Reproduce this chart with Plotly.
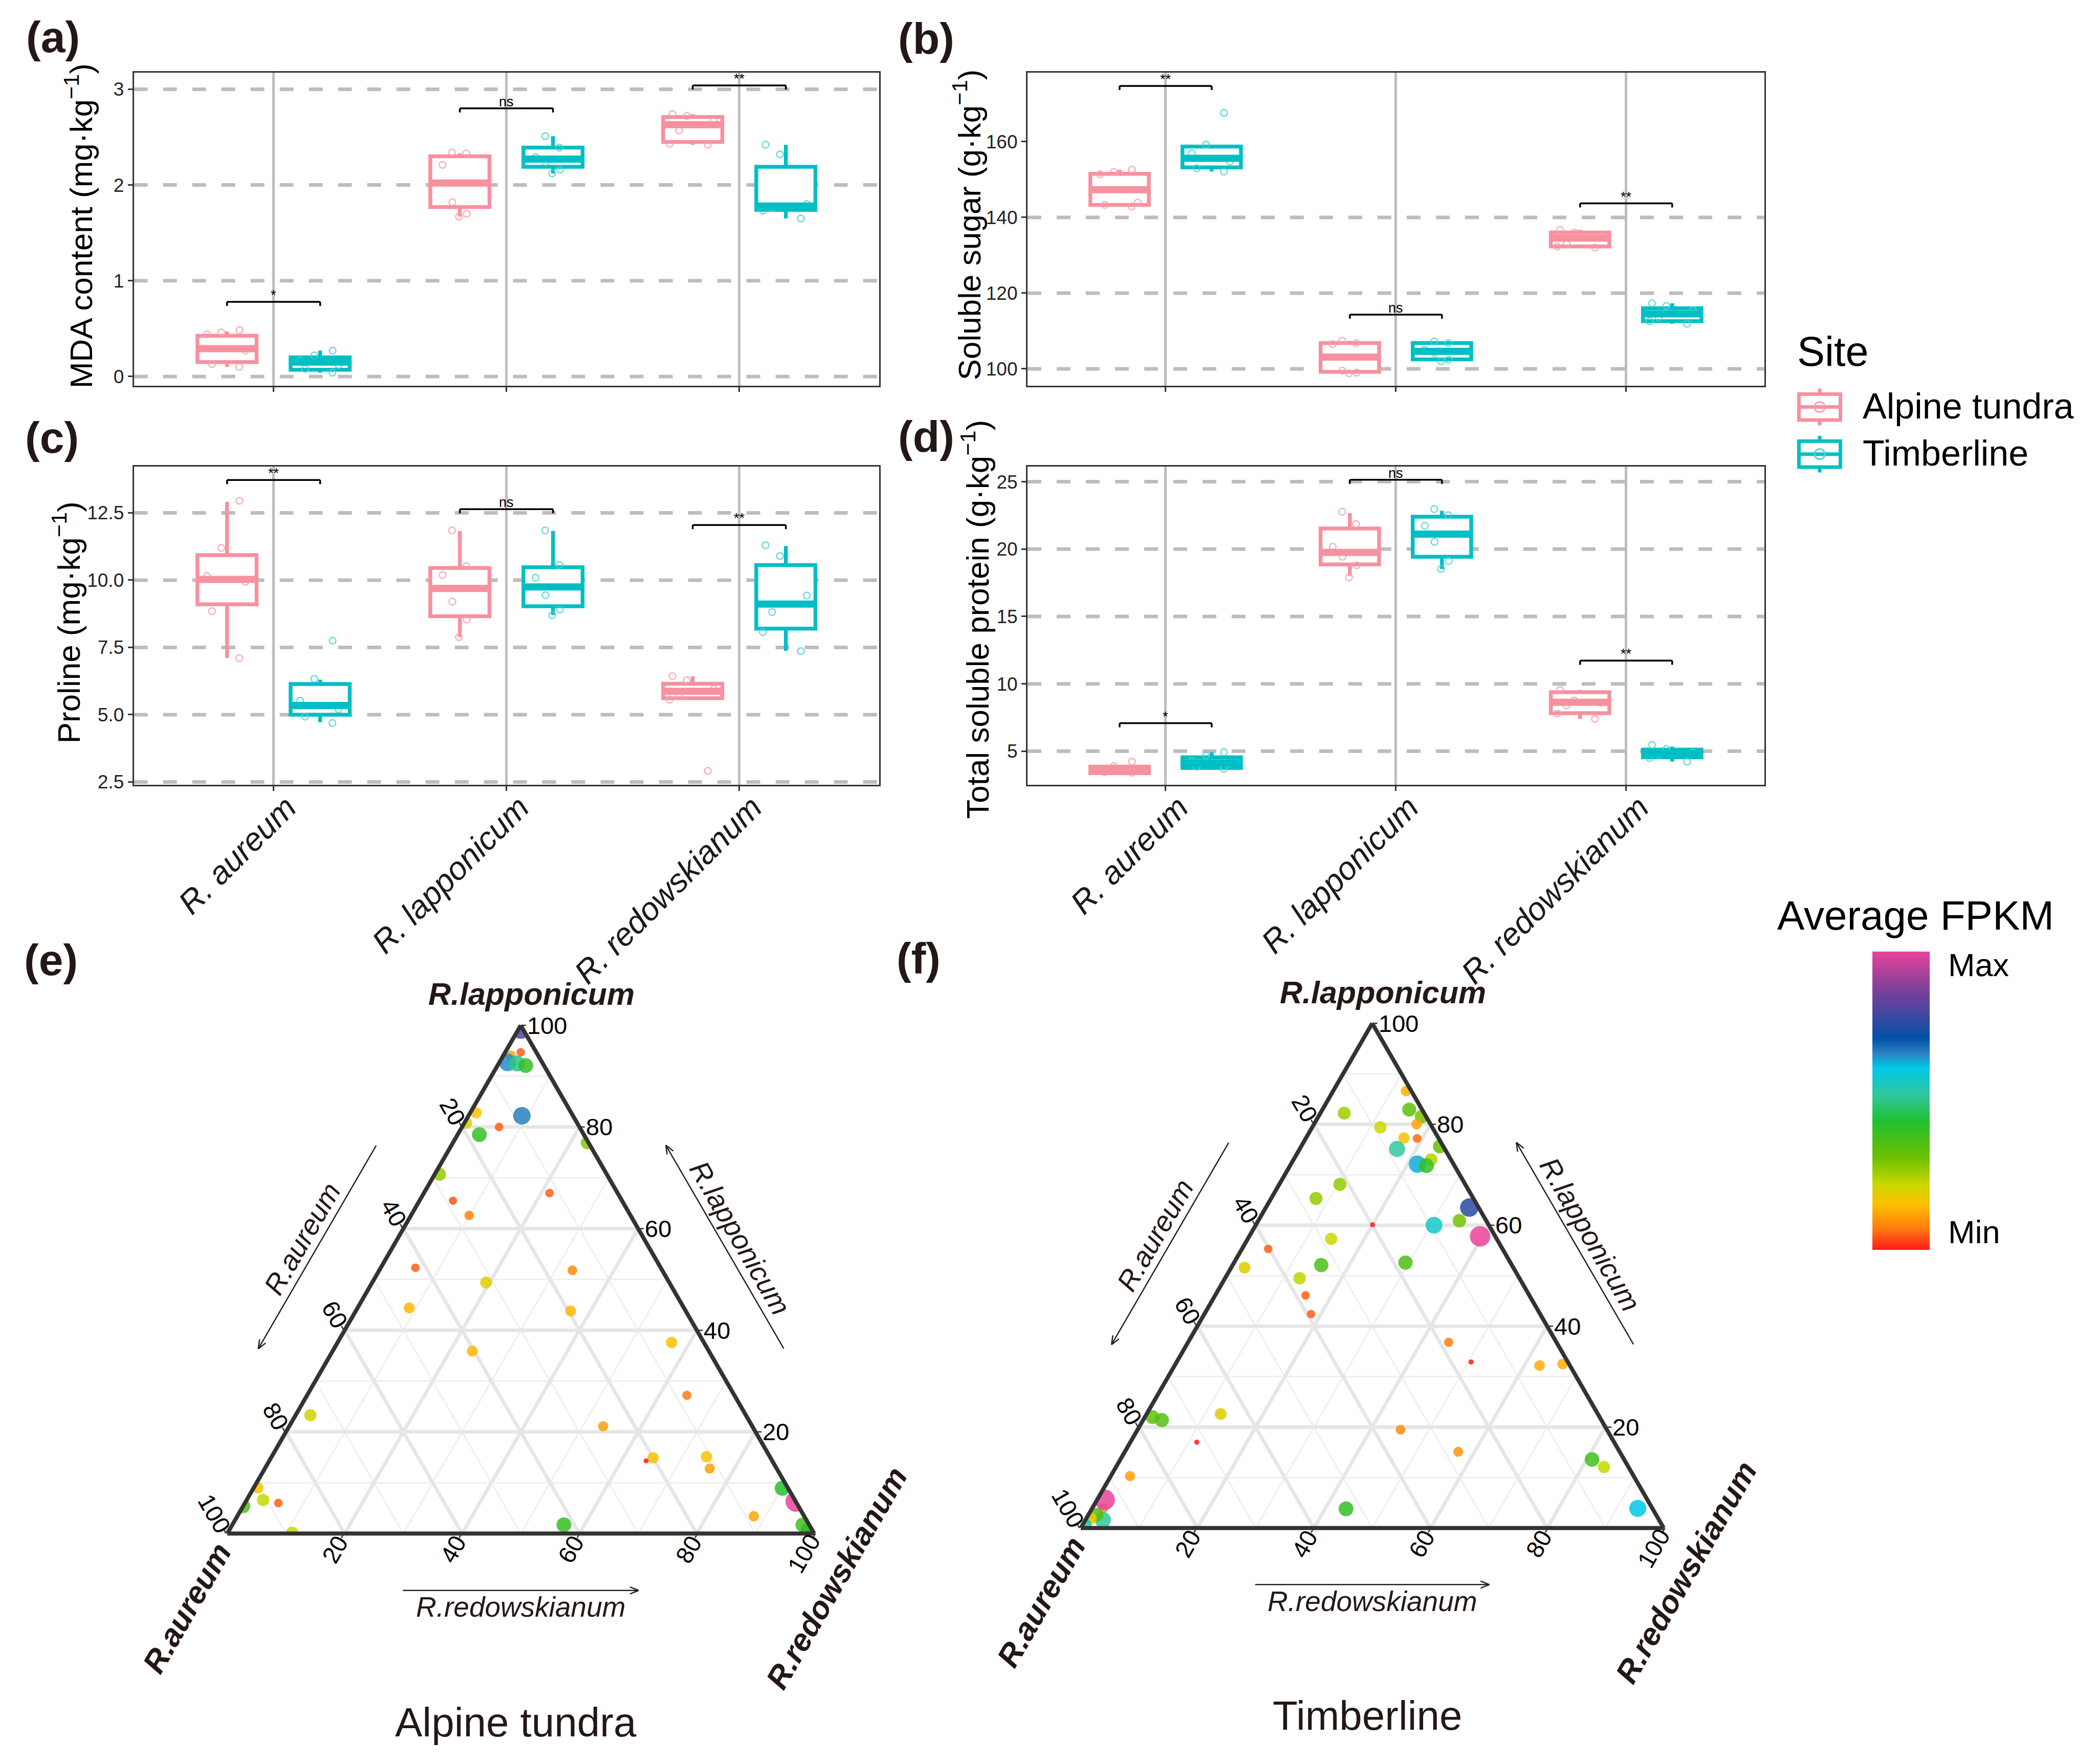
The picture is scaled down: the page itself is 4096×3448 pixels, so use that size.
import numpy as np
import plotly.graph_objects as go

W, H = 4096, 3448
S = W / 1568.0          # reference-view px -> output px
FONT = "Liberation Sans, Arial, Helvetica, sans-serif"
INK = "#231815"

species = ["R. aureum", "R. lapponicum", "R. redowskianum"]
site_names = ["Alpine tundra", "Timberline"]

# ---------- box data: [lower whisker, Q1, median, Q3, upper whisker] per species ----------
mda_alpine_box = [[0.10, 0.15, 0.29, 0.425, 0.47], [1.67, 1.77, 2.02, 2.30, 2.33], [2.42, 2.45, 2.63, 2.71, 2.74]]
mda_alpine_pts = [[0.46, 0.485, 0.44, 0.27, 0.13, 0.10], [2.34, 2.33, 2.21, 1.82, 1.70, 1.67], [2.74, 2.72, 2.67, 2.57, 2.43, 2.42]]
mda_timber_box = [[0.04, 0.07, 0.15, 0.20, 0.27], [2.12, 2.19, 2.27, 2.39, 2.51], [1.65, 1.74, 1.78, 2.19, 2.42]]
mda_timber_pts = [[0.27, 0.22, 0.17, 0.12, 0.08, 0.04], [2.51, 2.39, 2.29, 2.24, 2.16, 2.12], [2.42, 2.32, 1.80, 1.76, 1.73, 1.65]]
mda_sig_y = [0.78, 2.80, 3.04]
mda_sig = ["*", "ns", "**"]

sugar_alpine_box = [[142.9, 143.3, 147.3, 151.5, 152.6], [98.8, 99.2, 103.1, 106.8, 107.4], [132.0, 132.3, 134.5, 136.0, 136.7]]
sugar_alpine_pts = [[152.6, 152.0, 151.4, 143.9, 143.3, 142.9], [107.4, 106.8, 106.5, 99.5, 99.0, 98.8], [136.7, 136.0, 135.2, 133.0, 132.3, 132.0]]
sugar_timber_box = [[152.1, 153.2, 155.6, 158.7, 159.2], [102.0, 102.5, 104.6, 106.8, 107.2], [111.9, 112.6, 114.5, 116.0, 117.3]]
sugar_timber_pts = [[167.6, 159.2, 156.9, 154.8, 153.0, 152.1], [107.2, 106.8, 105.0, 104.2, 102.4, 102.0], [117.3, 116.6, 115.5, 113.5, 112.6, 111.9]]
sugar_sig_y = [174.7, 114.3, 143.7]
sugar_sig = ["**", "ns", "**"]

proline_alpine_box = [[7.11, 9.10, 10.03, 10.93, 12.91], [7.89, 8.66, 9.69, 10.45, 11.83], [5.56, 5.61, 5.87, 6.15, 6.43]]
proline_alpine_pts = [[12.95, 11.2, 10.15, 9.94, 8.85, 7.1], [11.85, 10.52, 10.19, 9.2, 8.54, 7.88], [6.43, 6.28, 5.95, 5.68, 5.56, 2.91]]
proline_timber_box = [[4.72, 5.00, 5.34, 6.14, 6.30], [8.70, 9.03, 9.75, 10.48, 11.83], [7.37, 8.20, 9.11, 10.56, 11.27]]
proline_timber_pts = [[7.75, 6.33, 5.52, 5.2, 4.93, 4.69], [11.85, 10.57, 10.09, 9.44, 8.91, 8.7], [11.3, 10.9, 9.43, 8.81, 8.07, 7.36]]
proline_sig_y = [13.72, 12.64, 12.05]
proline_sig = ["**", "ns", "**"]

protein_alpine_box = [[3.35, 3.37, 3.60, 3.86, 3.90], [18.02, 18.86, 19.75, 21.53, 22.67], [7.40, 7.82, 8.63, 9.38, 9.55]]
protein_alpine_pts = [[4.23, 3.89, 3.6, 3.52, 3.45, 3.4], [22.77, 21.85, 20.17, 19.43, 18.8, 17.9], [9.55, 8.76, 8.6, 8.39, 7.8, 7.4]]
protein_timber_box = [[3.69, 3.76, 4.13, 4.55, 4.93], [18.52, 19.43, 21.11, 22.40, 22.84], [4.23, 4.55, 4.80, 5.12, 5.35]]
protein_timber_pts = [[4.93, 4.68, 4.3, 4.1, 3.85, 3.69], [22.97, 22.52, 21.73, 20.54, 19.13, 18.52], [5.47, 5.17, 4.9, 4.7, 4.5, 4.23]]
protein_sig_y = [7.08, 25.15, 11.72]
protein_sig = ["*", "ns", "**"]

# ---------- ternary data (a = R.lapponicum, b = R.aureum, c = R.redowskianum, scaled FPKM 0..1) ----------
alp_lap = [99.2, 94.7, 94.0, 92.7, 92.5, 92.1, 82.8, 80.8, 82.2, 80.0, 78.5, 76.9, 70.7, 65.5, 62.6, 67.0, 52.3, 51.8, 49.4, 44.4, 43.8,
           35.9, 37.6, 27.2, 21.1, 23.3, 14.9, 14.3, 15.1, 12.8, 8.9, 6.3, 3.4, 0.5, 1.7, 0.9, 1.7, 0.15, 9.0, 6.6, 6.0, 5.4]
alp_aur = [0.4, 2.65, 4.7, 5.9, 4.4, 3.1, 16.2, 18.9, 8.7, 13.7, 17.8, 0.2, 28.5, 28.8, 27.5, 11.6, 41.8, 15.3, 31.2, 46.8, 19.6,
           40.3, 5.5, 8.1, 25.4, 74.2, 20.0, 21.5, 10.8, 11.4, 1.0, 0.0, 8.6, 0.5, 1.1, 0.3, 41.8, 88.9, 90.3, 90.6, 88.3, 94.6]
alp_red = [0.4, 2.65, 1.3, 1.4, 3.1, 4.8, 1.0, 0.3, 9.1, 6.3, 3.7, 22.9, 0.8, 5.7, 9.9, 21.4, 5.9, 32.9, 19.4, 8.8, 36.6,
           23.8, 56.9, 64.7, 53.5, 2.5, 65.1, 64.2, 74.1, 75.8, 90.1, 93.7, 88.0, 99.0, 97.2, 98.8, 56.5, 11.0, 0.7, 2.8, 5.7, 0.0]
alp_fpkm = [0.80, 0.05, 0.12, 0.65, 0.50, 0.40, 0.15, 0.20, 0.66, 0.05, 0.40, 0.28, 0.27, 0.04, 0.08, 0.05, 0.05, 0.09, 0.19, 0.14, 0.14,
            0.14, 0.16, 0.07, 0.11, 0.21, 0.16, 0.0, 0.16, 0.11, 0.42, 1.0, 0.12, 0.74, 0.38, 0.40, 0.40, 0.22, 0.16, 0.22, 0.05, 0.35]

tim_lap = [86.6, 82.9, 81.5, 82.2, 80.0, 79.4, 77.3, 77.2, 75.6, 75.1, 73.0, 72.1, 71.8, 68.1, 65.3, 63.5, 60.9, 60.0, 60.1, 57.8,
           57.3, 55.3, 52.1, 52.6, 51.6, 49.5, 46.1, 42.4, 36.8, 32.9, 32.2, 32.5, 22.0, 21.4, 22.6, 17.0, 19.5, 15.1, 13.6, 12.1,
           3.9, 3.8, 10.3, 3.9, 1.6, 2.6, 1.9, 0.5, 5.6]
tim_aur = [0.9, 2.2, 0.8, 13.7, 2.4, 8.9, 5.9, 3.7, 0.6, 8.2, 3.4, 6.2, 4.8, 21.5, 27.0, 1.6, 4.6, 9.4, 19.9, 2.6,
           28.4, 40.2, 32.7, 18.0, 46.1, 37.7, 38.4, 39.3, 18.5, 16.6, 5.2, 1.1, 76.7, 75.4, 64.7, 71.6, 35.4, 27.7, 5.5, 4.2,
           2.5, 52.6, 86.4, 94.2, 95.4, 96.0, 97.3, 99.3, 93.1]
tim_red = [12.5, 14.9, 17.7, 4.1, 17.6, 11.7, 16.8, 19.1, 23.8, 16.7, 23.6, 21.7, 23.4, 10.4, 7.7, 34.9, 34.5, 30.6, 20.0, 39.6,
           14.3, 4.5, 15.2, 29.4, 2.3, 12.8, 15.5, 18.3, 44.7, 50.5, 62.6, 66.4, 1.3, 3.2, 12.7, 11.4, 45.1, 57.2, 80.9, 83.7,
           93.6, 43.6, 3.3, 1.9, 3.0, 1.4, 0.8, 0.2, 1.3]
tim_fpkm = [0.13, 0.33, 0.30, 0.26, 0.12, 0.22, 0.16, 0.06, 0.32, 0.52, 0.24, 0.63, 0.40, 0.27, 0.27, 0.76, 0.30, 0.57, 0.0, 1.0,
            0.22, 0.05, 0.36, 0.36, 0.19, 0.23, 0.05, 0.05, 0.07, 0.0, 0.13, 0.13, 0.33, 0.35, 0.19, 0.0, 0.09, 0.10, 0.38, 0.22,
            0.61, 0.40, 0.11, 0.10, 0.52, 0.35, 0.18, 0.55, 1.0]

tern_ticks = [20, 40, 60, 80, 100]
tern_major = [20, 40, 60, 80]

# ---------- styles ----------
PINK, PINK_PT = "#F7919F", "#F59FAC"
CYAN, CYAN_PT = "#00BFC4", "#4FD0D5"
GRID = "#BDBDBD"
FPKM_SCALE = [[0.0, "#FF1A1A"], [0.07, "#FF7A10"], [0.15, "#FFBE00"], [0.22, "#C8D800"], [0.31, "#6CC000"],
              [0.43, "#20C030"], [0.52, "#30C8A0"], [0.61, "#00C8E8"], [0.66, "#2A80C0"], [0.71, "#0050A8"],
              [0.80, "#4A46A0"], [0.87, "#7A3F9A"], [1.0, "#E8449A"]]

fig = go.Figure()
shapes, annotations = [], []


def pp(x, y):
    return x / W, 1 - y / H


def ann(x, y, text, size, color=INK, xanchor="center", yanchor="middle", textangle=0):
    px, py = pp(x, y)
    annotations.append(dict(x=px, y=py, xref="paper", yref="paper", text=text, showarrow=False,
                            font=dict(size=size, color=color, family=FONT),
                            xanchor=xanchor, yanchor=yanchor, textangle=textangle))


def seg(x0, y0, x1, y1, color, width):
    a0, a1 = pp(x0, y0), pp(x1, y1)
    shapes.append(dict(type="line", xref="paper", yref="paper", x0=a0[0], y0=a0[1], x1=a1[0], y1=a1[1],
                       line=dict(color=color, width=width)))


# ---------- box panels ----------
panels = [
    dict(boxes=(mda_alpine_box, mda_timber_box), pts=(mda_alpine_pts, mda_timber_pts), sig_y=mda_sig_y, sig=mda_sig,
         rng=[-0.095, 3.175], ticks=[0, 1, 2, 3], fmt="{:g}", hl=[0, 1, 2, 3], rect=(97.1, 654.5, 51.4, 286.7),
         bottom=False, title="MDA content (mg·kg<sup>−1</sup>)", title_xy=(56.0, 166.8), lab="(a)", lab_xy=(36.4, 24.5)),
    dict(boxes=(sugar_alpine_box, sugar_timber_box), pts=(sugar_alpine_pts, sugar_timber_pts), sig_y=sugar_sig_y, sig=sugar_sig,
         rng=[95.57, 178.27], ticks=[100, 120, 140, 160], fmt="{:g}", hl=[100, 120, 140], rect=(765.6, 1316.8, 51.4, 286.7),
         bottom=False, title="Soluble sugar (g·kg<sup>−1</sup>)", title_xy=(720.3, 166.0), lab="(b)", lab_xy=(689.9, 25.6)),
    dict(boxes=(proline_alpine_box, proline_timber_box), pts=(proline_alpine_pts, proline_timber_pts), sig_y=proline_sig_y, sig=proline_sig,
         rng=[2.39, 14.23], ticks=[2.5, 5, 7.5, 10, 12.5], fmt="{:.1f}", hl=[2.5, 5, 7.5, 10, 12.5], rect=(97.1, 654.5, 347.4, 586.8),
         bottom=True, title="Proline (mg·kg<sup>−1</sup>)", title_xy=(46.5, 464.8), lab="(c)", lab_xy=(35.9, 325.5)),
    dict(boxes=(protein_alpine_box, protein_timber_box), pts=(protein_alpine_pts, protein_timber_pts), sig_y=protein_sig_y, sig=protein_sig,
         rng=[2.5, 26.14], ticks=[5, 10, 15, 20, 25], fmt="{:g}", hl=[5, 10, 15, 20, 25], rect=(765.6, 1316.8, 347.4, 586.8),
         bottom=True, title="Total soluble protein (g·kg<sup>−1</sup>)", title_xy=(726.5, 462.5), lab="(d)", lab_xy=(689.9, 324.8)),
]

OFF, HALF = 0.2, 0.127
layout_axes = {}
for k, p in enumerate(panels, start=1):
    sfx = "" if k == 1 else str(k)
    xid, yid = "x" + sfx, "y" + sfx
    x0, x1, y0, y1 = [v * S for v in p["rect"]]
    for s in range(2):
        box = p["boxes"][s]
        lo, q1, med, q3, hi = [list(t) for t in zip(*box)]
        col, pcol = (PINK, PINK_PT) if s == 0 else (CYAN, CYAN_PT)
        sign = -1 if s == 0 else 1
        fig.add_trace(go.Box(
            x=species, q1=q1, median=med, q3=q3, lowerfence=lo, upperfence=hi, y=p["pts"][s],
            name=site_names[s], offsetgroup=site_names[s], boxpoints="all", jitter=0.8, pointpos=0,
            whiskerwidth=0, fillcolor="white", line=dict(color=col, width=7.5),
            marker=dict(symbol="circle-open", size=13, color=pcol, opacity=0.8, line=dict(width=2.5, color=pcol)),
            xaxis=xid, yaxis=yid, showlegend=False, hoverinfo="skip"))
        for i, m in enumerate(med):
            shapes.append(dict(type="line", xref=xid, yref=yid, x0=i + sign * OFF - HALF, x1=i + sign * OFF + HALF,
                               y0=m, y1=m, line=dict(color=col, width=14), layer="above"))
    # dashed reference lines
    for v in p["hl"]:
        shapes.append(dict(type="line", xref=xid + " domain", yref=yid, x0=0, x1=1, y0=v, y1=v,
                           line=dict(color=GRID, width=7, dash="27px,30px"), layer="below"))
    # significance brackets
    tl = 0.013 * (p["rng"][1] - p["rng"][0])
    for i, (yv, lab) in enumerate(zip(p["sig_y"], p["sig"])):
        for (xa, ya, xb, yb) in [(i - OFF, yv, i + OFF, yv), (i - OFF, yv, i - OFF, yv - tl), (i + OFF, yv, i + OFF, yv - tl)]:
            shapes.append(dict(type="line", xref=xid, yref=yid, x0=xa, x1=xb, y0=ya, y1=yb,
                               line=dict(color="black", width=3.5), layer="above"))
        annotations.append(dict(x=i, y=yv, xref=xid, yref=yid, text=lab, showarrow=False, yanchor="bottom",
                                yshift=-4, font=dict(size=27, color="black", family=FONT)))
    layout_axes["xaxis" + sfx] = dict(
        domain=[x0 / W, x1 / W], anchor=yid, type="category", range=[-0.6, 2.6],
        tickmode="array", tickvals=species, ticktext=[f"<i>{s}</i>" for s in species],
        showticklabels=p["bottom"], tickangle=-45, tickfont=dict(size=63, color="#1a1a1a", family=FONT),
        ticklabelshift=26, ticklabelstandoff=-30,
        showgrid=True, gridcolor=GRID, gridwidth=5, zeroline=False,
        showline=True, linecolor="#333333", linewidth=3, mirror=True,
        ticks="outside", ticklen=9, tickwidth=3, tickcolor="#333333")
    layout_axes["yaxis" + sfx] = dict(
        domain=[1 - y1 / H, 1 - y0 / H], anchor=xid, range=p["rng"],
        tickmode="array", tickvals=p["ticks"], ticktext=[p["fmt"].format(t) for t in p["ticks"]],
        tickfont=dict(size=37, color="#222222", family=FONT), showgrid=False, zeroline=False,
        showline=True, linecolor="#333333", linewidth=3, mirror=True,
        ticks="outside", ticklen=9, tickwidth=3, tickcolor="#333333")
    tx, ty = p["title_xy"]
    ann(tx * S, ty * S, p["title"], 62, color="black", textangle=-90)
    lx, ly = p["lab_xy"]
    ann(lx * S, ly * S, f"<b>{p['lab']}</b>", 86)

# ---------- custom "Site" legend ----------
ann(3502, 682, "Site", 81, color="black", xanchor="left")
for s, cy in enumerate([791.0, 883.5]):
    col, pcol = (PINK, PINK_PT) if s == 0 else (CYAN, CYAN_PT)
    cx, hw, hh, wh = 3548.0, 40.5, 25.5, 36.0
    a0, a1 = pp(cx - hw, cy + hh), pp(cx + hw, cy - hh)
    shapes.append(dict(type="rect", xref="paper", yref="paper", x0=a0[0], y0=a0[1], x1=a1[0], y1=a1[1],
                       line=dict(color=col, width=7), fillcolor="white"))
    seg(cx - hw, cy, cx + hw, cy, col, 7)
    seg(cx, cy - wh, cx, cy - hh, col, 7)
    seg(cx, cy + hh, cx, cy + wh, col, 7)
    c0, c1 = pp(cx - 10, cy + 10), pp(cx + 10, cy - 10)
    shapes.append(dict(type="circle", xref="paper", yref="paper", x0=c0[0], y0=c0[1], x1=c1[0], y1=c1[1],
                       line=dict(color=pcol, width=3)))
    ann(3630, cy - 2, site_names[s], 70, color="black", xanchor="left")

# ---------- ternary plots ----------
def tri_geom(left, right, top):
    xL, xR, yT = left * S, right * S, top * S
    L = xR - xL
    return xL, xR, yT, yT + L * np.sqrt(3) / 2, L


def tpt(g, a, b, c):
    xL, xR, yT, yB, L = g
    return xL + (c + a / 2) / 100 * L, yB - a / 100 * (yB - yT)


tern_specs = [
    dict(key="ternary", g=tri_geom(166.0, 607.0, 767.5), a=alp_lap, b=alp_aur, c=alp_red, v=alp_fpkm,
         title="Alpine tundra", lab="(e)", lab_xy=(35.1, 718.2), scale=True),
    dict(key="ternary2", g=tri_geom(804.5, 1242.5, 766.0), a=tim_lap, b=tim_aur, c=tim_red, v=tim_fpkm,
         title="Timberline", lab="(f)", lab_xy=(684.1, 717.0), scale=False),
]

tern_axis = dict(title=dict(text=""), showticklabels=False, ticks="", tick0=0, dtick=10, showgrid=True,
                 gridcolor="#EFEFEF", gridwidth=3, showline=True, linecolor="#333333", linewidth=8, min=0)

for t in tern_specs:
    g = t["g"]
    xL, xR, yT, yB, L = g
    layout_axes[t["key"]] = dict(domain=dict(x=[xL / W, xR / W], y=[1 - yB / H, 1 - yT / H]), sum=100,
                                 bgcolor="rgba(0,0,0,0)", aaxis=dict(tern_axis), baxis=dict(tern_axis), caxis=dict(tern_axis))
    # major grid every 20
    ga, gb, gc = [], [], []
    for m in tern_major:
        ga += [m, m, None, 100 - m, 0, None, 100 - m, 0, None]
        gb += [100 - m, 0, None, m, m, None, 0, 100 - m, None]
        gc += [0, 100 - m, None, 0, 100 - m, None, m, m, None]
    fig.add_trace(go.Scatterternary(a=ga, b=gb, c=gc, mode="lines", subplot=t["key"], showlegend=False,
                                    line=dict(color="#E6E6E6", width=7), hoverinfo="skip"))
    mk = dict(color=t["v"], colorscale=FPKM_SCALE, cmin=0, cmax=1, size=[10 + 30 * np.sqrt(v) for v in t["v"]],
              opacity=0.85, line=dict(width=0), showscale=t["scale"])
    if t["scale"]:
        mk["colorbar"] = dict(x=1397.8 * S / W, xanchor="left", xpad=0, y=1 - 712 * S / H, yanchor="top", ypad=0,
                              len=223 * S, lenmode="pixels", thickness=43 * S, thicknessmode="pixels",
                              outlinewidth=0, borderwidth=0, tickmode="array", tickvals=[0.955, 0.06],
                              ticktext=["Max", "Min"], ticks="outside", ticklen=24, tickcolor="rgba(0,0,0,0)",
                              tickfont=dict(size=63, color="black", family=FONT))
    fig.add_trace(go.Scatterternary(a=t["a"], b=t["b"], c=t["c"], mode="markers", subplot=t["key"],
                                    marker=mk, showlegend=False, hoverinfo="skip"))

    # tick labels & tick marks
    for tv in tern_ticks:
        lbl = str(tv)
        # right edge: R.lapponicum
        x, y = tpt(g, tv, 0, 100 - tv)
        seg(x, y, x + 10, y, "#333333", 2.5)
        ann(x + 10, y, lbl, 47, color="black", xanchor="left")
        # left edge: R.aureum
        x, y = tpt(g, 100 - tv, tv, 0)
        d = (6 + 3.8 * len(lbl)) * S
        seg(x, y, x - 0.5 * 10, y - 0.866 * 10, "#333333", 2.5)
        ann(x - 0.5 * d, y - 0.866 * d, lbl, 47, color="black", textangle=60)
        # bottom edge: R.redowskianum
        x, y = tpt(g, 0, 100 - tv, tv)
        seg(x, y, x - 0.5 * 10, y + 0.866 * 10, "#333333", 2.5)
        ann(x - 0.5 * d, y + 0.866 * d, lbl, 47, color="black", textangle=-60)

    cxm = (xL + xR) / 2
    # vertex labels
    ann(cxm + 0.018 * L, yT - 0.0533 * L, "<b><i>R.lapponicum</i></b>", 61)
    ann(xL - 0.066 * L, yB + 0.127 * L, "<b><i>R.aureum</i></b>", 61, textangle=-60)
    ann(xR + 0.0363 * L, yB + 0.0757 * L, "<b><i>R.redowskianum</i></b>", 61, textangle=-60)

    # direction arrows with labels
    def arrow(mx, my, ux, uy, half):
        tx_, ty_ = mx - ux * half, my - uy * half
        hx, hy = mx + ux * half, my + uy * half
        seg(tx_, ty_, hx, hy, "#222222", 2.5)
        arm = 0.016 * L
        for ang in (np.radians(22), -np.radians(22)):
            bx, by = -ux, -uy
            rx = bx * np.cos(ang) - by * np.sin(ang)
            ry = bx * np.sin(ang) + by * np.cos(ang)
            seg(hx, hy, hx + rx * arm, hy + ry * arm, "#222222", 2.5)

    # left (R.aureum), outward normal (-0.866,-0.5), pointing down-left
    mlx, mly = (xL + cxm) / 2, (yB + yT) / 2
    arrow(mlx - 0.866 * 0.110 * L, mly - 0.5 * 0.110 * L, -0.5, 0.866, 0.2 * L)
    ann(mlx - 0.866 * 0.139 * L, mly - 0.5 * 0.139 * L, "<i>R.aureum</i>", 55, textangle=-60)
    # right (R.lapponicum), outward normal (0.866,-0.5), pointing up-left
    mrx, mry = (xR + cxm) / 2, (yB + yT) / 2
    arrow(mrx + 0.866 * 0.111 * L, mry - 0.5 * 0.111 * L, -0.5, -0.866, 0.2 * L)
    ann(mrx + 0.866 * 0.141 * L, mry - 0.5 * 0.141 * L, "<i>R.lapponicum</i>", 55, textangle=60)
    # bottom (R.redowskianum), pointing right
    arrow(cxm, yB + 0.097 * L, 1.0, 0.0, 0.2 * L)
    ann(cxm, yB + 0.1255 * L, "<i>R.redowskianum</i>", 55)

    ann(cxm - 0.008 * L, yB + 0.322 * L, t["title"], 80)
    lx, ly = t["lab_xy"]
    ann(lx * S, ly * S, f"<b>{t['lab']}</b>", 86)

# colour bar title
ann(1430 * S, 685 * S, "Average FPKM", 80, color="black")

fig.update_layout(
    width=W, height=H, margin=dict(l=0, r=0, t=0, b=0),
    paper_bgcolor="white", plot_bgcolor="white",
    font=dict(family=FONT, color="black"),
    boxmode="group", boxgap=0.2, boxgroupgap=0.365,
    showlegend=False, shapes=shapes, annotations=annotations,
    **layout_axes)

fig.write_html("out.html")
